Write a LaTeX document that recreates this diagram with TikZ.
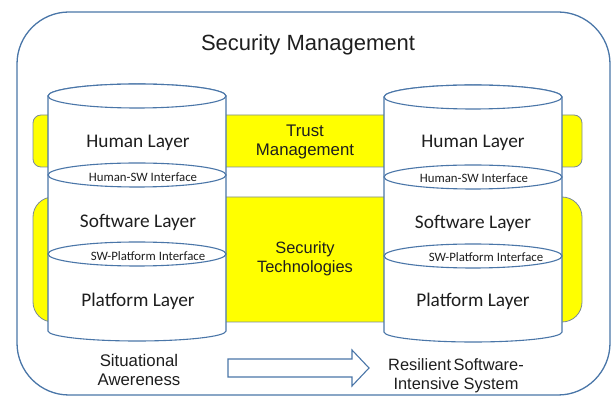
\documentclass[tikz,border=0pt]{standalone}
\usepackage{fontspec}
\setmainfont{Liberation Sans}
\newfontfamily\calib{Carlito}
\definecolor{edgeblue}{HTML}{4A76A8}
\definecolor{bandedge}{HTML}{7A8A99}
\definecolor{txt}{HTML}{1E1E1E}
\definecolor{yel}{HTML}{FFFF00}
\begin{document}
\begin{tikzpicture}[x=1pt,y=1pt,
  outerbox/.style={draw=edgeblue,line width=1.3pt,rounded corners=52pt},
  band/.style={fill=yel,draw=bandedge,line width=0.8pt},
  cyl/.style={fill=white,draw=edgeblue,line width=1.1pt},
  layertxt/.style={font=\calib\fontsize{19.3}{22}\selectfont,text=txt,inner sep=0pt},
  iftxt/.style={font=\calib\fontsize{12.8}{15}\selectfont,text=txt,inner sep=0pt},
  bigtxt/.style={font=\fontsize{16.8}{20}\selectfont,text=txt,align=center,inner sep=0pt},
  blockarrow/.style={fill=white,draw=edgeblue,line width=1.1pt,line join=miter}]
\useasboundingbox (0,0) rectangle (613,396);
% outer frame
\draw[outerbox] (17,1) rectangle (610,384);
% yellow bands
\draw[band,rounded corners=8pt] (33,229) rectangle (582,281);
\draw[band,rounded corners=20pt] (33,74) rectangle (582,199);
% left cylinder
\path[cyl] (48,300) -- (48,65) arc[start angle=180,end angle=360,x radius=89,y radius=10] -- (226,300) arc[start angle=0,end angle=180,x radius=89,y radius=12] -- cycle;
\draw[cyl] (137,300) ellipse[x radius=89,y radius=12];
\draw[cyl] (137,221) ellipse[x radius=89,y radius=12];
\draw[cyl] (137,142) ellipse[x radius=89,y radius=12];
% right cylinder
\path[cyl] (384,299) -- (384,64) arc[start angle=180,end angle=360,x radius=89,y radius=10] -- (562,299) arc[start angle=0,end angle=180,x radius=89,y radius=12] -- cycle;
\draw[cyl] (473,299) ellipse[x radius=89,y radius=12];
\draw[cyl] (473,219) ellipse[x radius=89,y radius=12];
\draw[cyl] (473,140) ellipse[x radius=89,y radius=12];
% texts
\node[font=\fontsize{22}{26}\selectfont,text=txt,inner sep=0pt] (title) at (308,351) {Security Management};
\node[bigtxt] (trust) at (305,254.5) {Trust\\[-1pt]Management};
\node[bigtxt,font=\fontsize{16.4}{20}\selectfont] (sectech) at (305,137) {Security\\[-1pt]Technologies};
\node[layertxt] (lhuman) at (138,253) {Human Layer};
\node[layertxt] (lsw) at (138,174) {Software Layer};
\node[layertxt] (lplat) at (138,95) {Platform Layer};
\node[iftxt] (lhsw) at (143,219) {Human-SW Interface};
\node[iftxt] (lswp) at (148,140) {SW-Platform Interface};
\node[layertxt] (rhuman) at (473,253) {Human Layer};
\node[layertxt] (rsw) at (473,173) {Software Layer};
\node[layertxt] (rplat) at (473,95) {Platform Layer};
\node[iftxt] (rhsw) at (474,218) {Human-SW Interface};
\node[iftxt] (rswp) at (486,139) {SW-Platform Interface};
\node[bigtxt] (sit) at (139,26) {Situational\\[-1pt]Awereness};
\node[bigtxt,font=\fontsize{16.4}{19}\selectfont] (res) at (456,20) {Resilient\hspace{-2pt} Software-\\Intensive System};
% block arrow
\draw[blockarrow] (228,37) -- (352,37) -- (352,46) -- (369,28) -- (352,10) -- (352,19) -- (228,19) -- cycle;
\end{tikzpicture}
\end{document}
